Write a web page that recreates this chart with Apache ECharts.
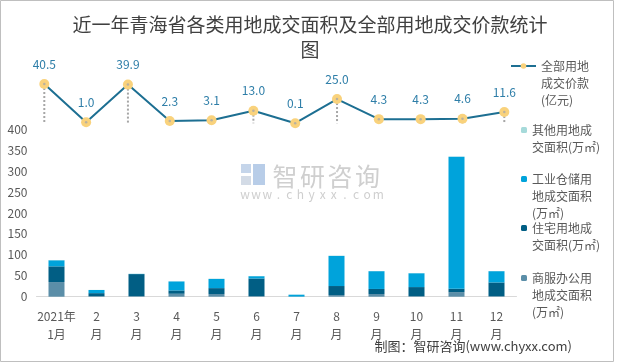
<!DOCTYPE html>
<html>
<head>
<meta charset="utf-8">
<script src="https://cdn.jsdelivr.net/npm/echarts@6/dist/echarts.min.js"></script>
<style>html,body{margin:0;padding:0;background:#fff}#c{width:620px;height:364px}</style>
</head>
<body>
<div id="c"></div>
<script>
const months = ['2021年\n1月','2\n月','3\n月','4\n月','5\n月','6\n月','7\n月','8\n月','9\n月','10\n月','11\n月','12\n月'];
const priceTotal = [40.5, 1.0, 39.9, 2.3, 3.1, 13.0, 0.1, 25.0, 4.3, 4.3, 4.6, 11.6];
const areaCommercial = [35, 1, 1, 7, 6.5, 1, 0, 4, 6.5, 1, 11, 1];
const areaResidential = [37.5, 7.5, 53, 8, 14, 42.5, 0.3, 21.5, 12, 22, 8, 33];
const areaIndustrial = [14.5, 7.5, 0.5, 21.5, 22, 5.5, 4.5, 72, 42.5, 33, 315.5, 27];
const areaOther = [0.5, 0.3, 0.3, 0.3, 0.5, 0.3, 0.2, 0.5, 0.3, 0.3, 0.5, 0.3];

const nLine = '全部用地\n成交价款\n(亿元)';
const nOther = '其他用地成\n交面积(万㎡)';
const nInd = '工业仓储用\n地成交面积\n(万㎡)';
const nRes = '住宅用地成\n交面积(万㎡)';
const nCom = '商服办公用\n地成交面积\n(万㎡)';

const font = '"Noto Sans CJK SC", "Noto Sans", sans-serif';
const LH = 17;
function lg(name, left, firstY, nLines, iw, ih) {
  return {
    data: [name], left: left, top: firstY - 8.5 * (2 * nLines - 1),
    orient: 'vertical', padding: 0, itemWidth: iw, itemHeight: ih,
    formatter: function (n) { return '\n'.repeat(nLines - 1) + n; },
    textStyle: { fontFamily: font, fontSize: 12, color: '#595959', lineHeight: LH }
  };
}

const wmChars = ['智', '研', '咨', '询'];
const wmUrl = 'www.chyxx.com'.split('');
const graphics = [
  { type: 'rect', shape: { x: 0.5, y: 0.5, width: 613, height: 361 }, style: { fill: null, stroke: '#bfbfbf', lineWidth: 1 }, silent: true },
  { type: 'rect', shape: { x: 241, y: 164, width: 10, height: 9 }, style: { fill: '#c5d5ea' }, silent: true },
  { type: 'rect', shape: { x: 253, y: 164, width: 12, height: 21 }, style: { fill: '#b8cde8' }, silent: true },
  { type: 'rect', shape: { x: 241, y: 176, width: 10, height: 9 }, style: { fill: '#d3dbe6' }, silent: true },
  { type: 'text', right: 620 - 572, top: 340, style: { text: '制图：智研咨询(www.chyxx.com)', fontFamily: font, fontSize: 13, fill: '#404040' }, silent: true }
];
wmChars.forEach(function (ch, i) {
  graphics.push({ type: 'text', x: 285 + i * 27.5, y: 176, style: { text: ch, fontFamily: font, fontSize: 25, fill: '#cfcfcf', align: 'center', verticalAlign: 'middle' }, silent: true });
});
wmUrl.forEach(function (ch, i) {
  graphics.push({ type: 'text', x: 245 + i * 11.1, y: 194, style: { text: ch, fontFamily: font, fontSize: 12, fill: '#cfcfcf', align: 'center', verticalAlign: 'middle' }, silent: true });
});

const chart = echarts.init(document.getElementById('c'));
chart.setOption({
  animation: false,
  backgroundColor: '#fff',
  textStyle: { fontFamily: font },
  title: {
    text: '近一年青海省各类用地成交面积及全部用地成交价款统计\n图',
    left: 305, top: 7, textAlign: 'center',
    textStyle: { fontFamily: font, fontSize: 19, fontWeight: 'normal', color: '#404040', lineHeight: 25 }
  },
  legend: [
    lg(nLine, 510, 66, 3, 25, 7),
    lg(nOther, 521, 130, 2, 6, 6),
    lg(nInd, 521, 179, 3, 6, 6),
    lg(nRes, 521, 228, 2, 6, 6),
    lg(nCom, 521, 278, 3, 6, 6)
  ],
  grid: [
    { left: 36.5, width: 480, top: 129.3, height: 167.4 },
    { left: 44.3, width: 460, top: 79.65, height: 43.65 }
  ],
  xAxis: [
    { type: 'category', gridIndex: 0, data: months,
      axisLine: { lineStyle: { color: '#d9d9d9' } },
      axisTick: { length: 5, lineStyle: { color: '#d9d9d9' } },
      axisLabel: { color: '#595959', fontSize: 12, lineHeight: 18, margin: 11, interval: 0 } },
    { type: 'category', gridIndex: 1, data: months, boundaryGap: false, show: false }
  ],
  yAxis: [
    { type: 'value', gridIndex: 0, min: 0, max: 400, interval: 50,
      axisLine: { show: false }, axisTick: { show: false }, splitLine: { show: false },
      axisLabel: { color: '#595959', fontSize: 12, margin: 9 } },
    { type: 'value', gridIndex: 1, min: 0, max: 45, show: false, splitLine: { show: false } }
  ],
  series: [
    { name: nCom, type: 'bar', stack: 'a', barWidth: 16, data: areaCommercial, itemStyle: { color: '#5b8ea8' } },
    { name: nRes, type: 'bar', stack: 'a', data: areaResidential, itemStyle: { color: '#015e84' } },
    { name: nInd, type: 'bar', stack: 'a', data: areaIndustrial, itemStyle: { color: '#00a3db' } },
    { name: nOther, type: 'bar', stack: 'a', data: areaOther, itemStyle: { color: '#a6dada' } },
    { type: 'custom', xAxisIndex: 1, yAxisIndex: 1, z: 1, silent: true,
      data: priceTotal.map((v, i) => [i, v]),
      renderItem: function (params, api) {
        const p1 = api.coord([api.value(0), api.value(1)]);
        const p0 = api.coord([api.value(0), 0]);
        return { type: 'line', shape: { x1: p1[0], y1: p1[1], x2: p0[0], y2: p0[1] },
          style: { stroke: '#a6a6a6', lineWidth: 2, lineDash: [2, 2] } };
      } },
    { name: nLine, type: 'line', xAxisIndex: 1, yAxisIndex: 1, z: 3, data: priceTotal,
      symbol: 'circle', symbolSize: 10,
      lineStyle: { color: '#1d6f92', width: 2 },
      itemStyle: { color: '#f9d27c' },
      label: { show: true, position: 'top', distance: 9, color: '#2e7ea8', fontSize: 12,
        formatter: p => p.value.toFixed(1) } },
    { type: 'scatter', xAxisIndex: 1, yAxisIndex: 1, z: 4, silent: true, data: priceTotal,
      symbolSize: 2.5, itemStyle: { color: '#a9a9a9' } }
  ],
  graphic: graphics
});
</script>
</body>
</html>
